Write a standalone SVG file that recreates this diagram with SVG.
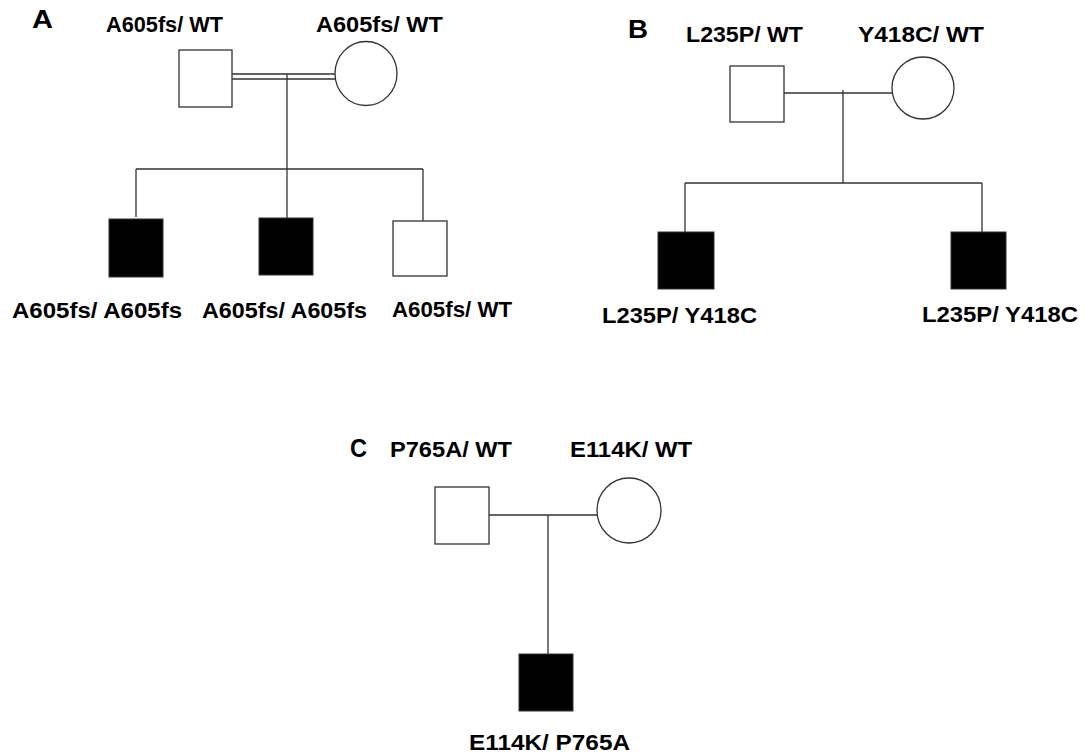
<svg xmlns="http://www.w3.org/2000/svg" width="1085" height="753" viewBox="0 0 1085 753">
<style>
.lbl{font-family:"Liberation Sans",Arial,sans-serif;font-weight:bold;font-size:22px;fill:#000}
.pl{font-family:"Liberation Sans",Arial,sans-serif;font-weight:bold;font-size:25px;fill:#000}
.m{fill:#fff;stroke:#333;stroke-width:1.3}
.a{fill:#000;stroke:#333;stroke-width:1}
.c{fill:none;stroke:#333;stroke-width:1.3}
</style>
<rect width="1085" height="753" fill="#fff"/>
<text class="pl" x="32" y="28" textLength="21" lengthAdjust="spacingAndGlyphs">A</text>
<text class="pl" x="628" y="38" textLength="20" lengthAdjust="spacingAndGlyphs">B</text>
<text class="pl" x="350" y="457" textLength="17" lengthAdjust="spacingAndGlyphs">C</text>
<g id="connectors">
<path class="c" d="M232,74H335M232,79H335M287,74V169M136,169H423M136,169V217M287,169V218M423,169V221"/>
<path class="c" d="M784,93H892M843,90V183M685,183H982M685,183V232M982,183V232"/>
<path class="c" d="M489,515H597M548,515V654"/>
</g>
<g id="A-father"><rect class="m" x="179" y="50" width="53" height="57"/><text class="lbl" x="106" y="32" textLength="117" lengthAdjust="spacingAndGlyphs">A605fs/ WT</text></g>
<g id="A-mother"><ellipse class="m" cx="366" cy="73.5" rx="31" ry="32"/><text class="lbl" x="316" y="32" textLength="127" lengthAdjust="spacingAndGlyphs">A605fs/ WT</text></g>
<g id="A-child1"><rect class="a" x="109" y="219" width="54" height="58"/><text class="lbl" x="12" y="318" textLength="170" lengthAdjust="spacingAndGlyphs">A605fs/ A605fs</text></g>
<g id="A-child2"><rect class="a" x="259" y="218" width="54" height="57"/><text class="lbl" x="202" y="318" textLength="165" lengthAdjust="spacingAndGlyphs">A605fs/ A605fs</text></g>
<g id="A-child3"><rect class="m" x="393" y="221" width="54" height="55"/><text class="lbl" x="392" y="317" textLength="120" lengthAdjust="spacingAndGlyphs">A605fs/ WT</text></g>
<g id="B-father"><rect class="m" x="730" y="66" width="54" height="56"/><text class="lbl" x="686" y="42" textLength="117" lengthAdjust="spacingAndGlyphs">L235P/ WT</text></g>
<g id="B-mother"><ellipse class="m" cx="923" cy="88" rx="31" ry="31"/><text class="lbl" x="858" y="42" textLength="126" lengthAdjust="spacingAndGlyphs">Y418C/ WT</text></g>
<g id="B-child1"><rect class="a" x="658" y="232" width="56" height="57"/><text class="lbl" x="602" y="323" textLength="155" lengthAdjust="spacingAndGlyphs">L235P/ Y418C</text></g>
<g id="B-child2"><rect class="a" x="951" y="232" width="55" height="57"/><text class="lbl" x="922" y="322" textLength="156" lengthAdjust="spacingAndGlyphs">L235P/ Y418C</text></g>
<g id="C-father"><rect class="m" x="435" y="487" width="54" height="57"/><text class="lbl" x="390" y="457" textLength="122" lengthAdjust="spacingAndGlyphs">P765A/ WT</text></g>
<g id="C-mother"><ellipse class="m" cx="629" cy="510.5" rx="32" ry="32.5"/><text class="lbl" x="570" y="457" textLength="122" lengthAdjust="spacingAndGlyphs">E114K/ WT</text></g>
<g id="C-child"><rect class="a" x="519" y="654" width="54" height="57"/><text class="lbl" x="469" y="750" textLength="161" lengthAdjust="spacingAndGlyphs">E114K/ P765A</text></g>
</svg>
